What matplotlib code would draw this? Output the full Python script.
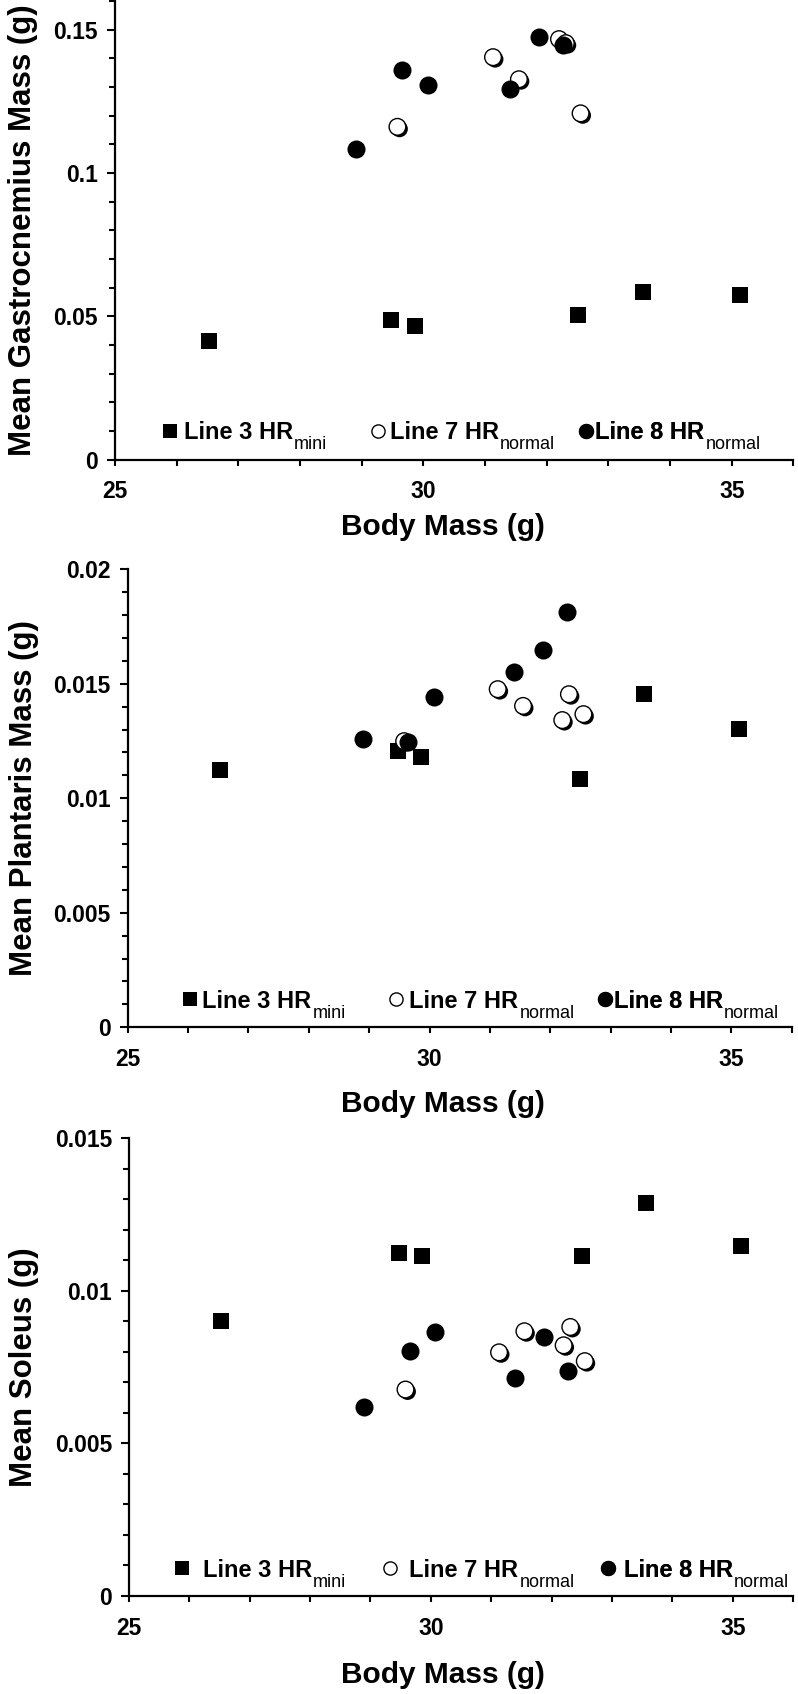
import matplotlib
matplotlib.use("Agg")
import matplotlib.pyplot as plt
import matplotlib.patheffects as pe
from matplotlib.lines import Line2D
from matplotlib.ticker import MultipleLocator, FuncFormatter

plt.rcParams['font.family'] = ['Liberation Sans', 'DejaVu Sans']
plt.rcParams['font.weight'] = 'bold'

# body mass (g) of each family, same for all three panels
mass_line3 = [26.53, 29.47, 29.86, 32.50, 33.56, 35.13]
mass_line7 = [29.58, 31.13, 31.55, 32.20, 32.31, 32.55]
mass_line8 = [28.90, 29.65, 30.07, 31.40, 31.88, 32.27]

gastroc_line3 = [0.0413, 0.0488, 0.0465, 0.0503, 0.0586, 0.0574]
gastroc_line7 = [0.1161, 0.1404, 0.1327, 0.1467, 0.1453, 0.1208]
gastroc_line8 = [0.1084, 0.1359, 0.1307, 0.1292, 0.1476, 0.1447]

plantaris_line3 = [0.01122, 0.01205, 0.01180, 0.01083, 0.01453, 0.01304]
plantaris_line7 = [0.01249, 0.01476, 0.01403, 0.01341, 0.01454, 0.01367]
plantaris_line8 = [0.01258, 0.01246, 0.01443, 0.01552, 0.01649, 0.01811]

soleus_line3 = [0.00902, 0.01124, 0.01113, 0.01113, 0.01288, 0.01148]
soleus_line7 = [0.00676, 0.00798, 0.00867, 0.00821, 0.00881, 0.00769]
soleus_line8 = [0.00620, 0.00802, 0.00864, 0.00715, 0.00847, 0.00736]

key_labels = ['Line 3 HR', 'Line 7 HR', 'Line 8 HR']
key_subs = ['mini', 'normal', 'normal']

panels = [
    dict(y3=gastroc_line3, y7=gastroc_line7, y8=gastroc_line8,
         ylabel='Mean Gastrocnemius Mass (g)', ymax=0.16, major=0.05, minor=0.01,
         rect=[0.1441, 0.7287, 0.8501, 0.2707], ylab_x=-0.1128, xlab=(0.4835, -0.117),
         key_x=[0.0693, 0.3756, 0.6817], key_pad=[5, 3.5, 1.5], key_y=0.058),
    dict(y3=plantaris_line3, y7=plantaris_line7, y8=plantaris_line8,
         ylabel='Mean Plantaris Mass (g)', ymax=0.02, major=0.005, minor=0.001,
         rect=[0.1600, 0.3936, 0.8321, 0.2704], ylab_x=-0.1343, xlab=(0.4748, -0.136),
         key_x=[0.0810, 0.3917, 0.7060], key_pad=[4.5, 4.8, 0.5], key_y=0.057),
    dict(y3=soleus_line3, y7=soleus_line7, y8=soleus_line8,
         ylabel='Mean Soleus (g)', ymax=0.015, major=0.005, minor=0.001,
         rect=[0.1617, 0.0580, 0.8321, 0.2701], ylab_x=-0.1363, xlab=(0.4729, -0.1425),
         key_x=[0.0678, 0.3801, 0.7090], key_pad=[12, 11.2, 7.2], key_y=0.056),
]

fig = plt.figure(figsize=(7.98, 16.94), dpi=100)
key_fs = 17
key_px = key_fs * 100 / 72

shadow = [pe.SimplePatchShadow(offset=(1.5, -1.5), shadow_rgbFace='black', alpha=1.0),
          pe.Normal()]

for p in panels:
    ax = fig.add_axes(p['rect'])
    ax.plot(mass_line3, p['y3'], 's', ms=12, mew=0, color='black', zorder=3)
    ax.plot(mass_line7, p['y7'], 'o', ms=12, mew=1.0, mfc='white', mec='black',
            zorder=4, path_effects=shadow)
    ax.plot(mass_line8, p['y8'], 'o', ms=13, mew=0, color='black', zorder=5)

    ax.set_xlim(25, 36)
    ax.set_ylim(0, p['ymax'])
    ax.xaxis.set_major_locator(MultipleLocator(5))
    ax.xaxis.set_minor_locator(MultipleLocator(1))
    ax.yaxis.set_major_locator(MultipleLocator(p['major']))
    ax.yaxis.set_minor_locator(MultipleLocator(p['minor']))
    ax.yaxis.set_major_formatter(FuncFormatter(lambda v, pos: '{:g}'.format(round(v, 6))))

    for side in ['top', 'right']:
        ax.spines[side].set_visible(False)
    for side in ['left', 'bottom']:
        ax.spines[side].set_linewidth(1.6)

    ax.tick_params(axis='x', which='both', length=4.5, width=1.5, pad=10.5, labelsize=16.5)
    ax.tick_params(axis='y', which='major', length=5.8, width=1.5, pad=6.5, labelsize=16.5)
    ax.tick_params(axis='y', which='minor', length=4.5, width=1.5)

    ax.set_xlabel('Body Mass (g)', fontsize=21.5, fontweight='bold')
    ax.xaxis.set_label_coords(*p['xlab'])
    ax.set_ylabel(p['ylabel'], fontsize=22.5, fontweight='bold')
    ax.yaxis.set_label_coords(p['ylab_x'], 0.5)

    handles = [
        Line2D([], [], marker='s', ls='none', ms=10, mew=0, color='black'),
        Line2D([], [], marker='o', ls='none', ms=9.5, mew=1.0, mfc='white', mec='black'),
        Line2D([], [], marker='o', ls='none', ms=11, mew=0, color='black'),
    ]
    for h, lab, sub, kx, kp in zip(handles, key_labels, key_subs, p['key_x'], p['key_pad']):
        leg = ax.legend(handles=[h], labels=[lab], loc='center left',
                        bbox_to_anchor=(kx, p['key_y']), frameon=False,
                        borderpad=0, borderaxespad=0, handlelength=0.7,
                        handletextpad=kp / key_px,
                        prop={'size': key_fs, 'weight': 'bold'})
        ax.add_artist(leg)
        # subscript hung off the right end of the key text
        ax.annotate(sub, xy=(1, 0), xycoords=leg.get_texts()[0],
                    xytext=(1.0, -3.6), textcoords='offset points',
                    ha='left', va='baseline', fontsize=13, fontweight='normal',
                    zorder=6)

fig.savefig('out.png', dpi=100)
